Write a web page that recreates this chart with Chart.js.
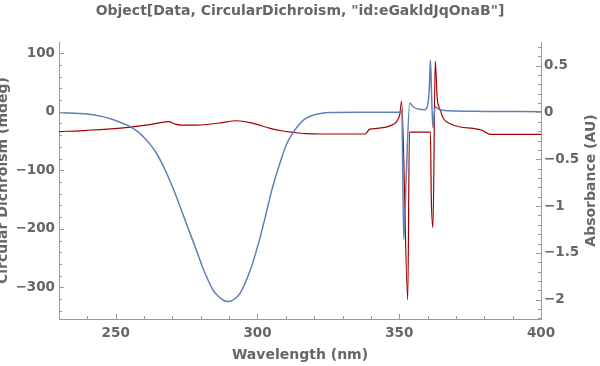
<!DOCTYPE html>
<html>
<head>
<meta charset="utf-8">
<script src="https://cdn.jsdelivr.net/npm/chart.js@4/dist/chart.umd.min.js"></script>
<style>
  html, body { margin: 0; padding: 0; background: #fff; }
  #wrap { width: 600px; height: 366px; }
</style>
</head>
<body>
<div id="wrap"><canvas id="cdChart" width="600" height="366"></canvas></div>
<script>
// circular dichroism (mdeg), left axis
const cdWavelengths = [230, 240, 245, 250, 253, 255, 258, 260, 262, 264, 266.9, 270.4, 274, 277.5, 281, 284.5,
  286, 288, 289.6, 291, 293, 294, 297.5, 300.4, 302.8, 305.1, 307.5, 310.4, 312.8, 316.3, 319, 322.2, 326, 335, 345, 350,
  350.9, 351.6, 352.4, 353.7, 355, 357, 359, 360, 360.6, 361, 361.4, 361.9, 362.3, 362.7, 364, 366, 370, 380, 400];
const cdValues = [-1.5, -4, -8, -15, -21, -25, -35, -44, -55, -68, -94, -133, -179, -224, -270, -306,
  -314, -322, -324, -322.5, -315, -309, -270, -224, -179, -133, -94, -54, -34, -14, -7, -3, -1.5, -1, -1, -1,
  3, -218, -120, 15, 8, 4, 3.5, 10, 40, 88, 30, -28, -5, 8, 4, 2, 1, 0.5, 0];

// absorbance (AU), right axis
const absWavelengths = [230, 240, 254.4, 262, 268.6, 271, 273.1, 278.7, 286, 292.8, 297.5, 304.5, 308.5, 312.8, 317,
  322.2, 338, 339.5, 342.2, 346.9, 349, 350.2, 350.85, 353, 353.6, 361, 361.3, 361.9, 362.7, 363.4, 364, 364.5,
  365.7, 368, 371.5, 376.1, 379.2, 382.2, 400];
const absValues = [-0.205, -0.19, -0.158, -0.13, -0.098, -0.125, -0.134, -0.134, -0.115, -0.088, -0.109, -0.169, -0.195, -0.212, -0.225,
  -0.23, -0.23, -0.18, -0.17, -0.14, -0.1, -0.02, 0.12, -2.0, -0.21, -0.21, -0.9, -1.23, 0.55, 0.15, 0.06, 0.02,
  -0.07, -0.12, -0.155, -0.17, -0.19, -0.234, -0.234];

const wlTicks = [250, 300, 350, 400];
const cdTicks = [-300, -200, -100, 0, 100];
const absTicks = [-2, -1.5, -1, -0.5, 0, 0.5];

const grey = '#666';
const axisGrey = '#9a9a9a';
const fontTick = { family: 'DejaVu Sans', size: 13.5, weight: 'bold' };
const fontLabel = { family: 'DejaVu Sans', size: 14, weight: 'bold' };

function fmt(v) {
  return v < 0 ? '\u2212' + Math.abs(v) : String(v);
}
function setTicks(arr) {
  return function (scale) { scale.ticks = arr.map(v => ({ value: v })); };
}

// Mathematica-style ticks pointing into the frame, plus the right label read bottom to top
const frameExtras = {
  id: 'frameExtras',
  afterDraw(chart) {
    const ctx = chart.ctx;
    const specs = [
      { s: chart.scales.x, minor: 10, major: 50, side: 'bottom' },
      { s: chart.scales.yCD, minor: 20, major: 100, side: 'left' },
      { s: chart.scales.yAbs, minor: 0.1, major: 0.5, side: 'right' }
    ];
    ctx.save();
    ctx.strokeStyle = axisGrey;
    ctx.lineWidth = 1;
    specs.forEach(({ s, minor, major, side }) => {
      const start = Math.ceil(s.min / minor - 1e-9);
      const end = Math.floor(s.max / minor + 1e-9);
      for (let i = start; i <= end; i++) {
        const v = i * minor;
        const isMajor = Math.abs(v / major - Math.round(v / major)) < 1e-6;
        const len = isMajor ? 5 : 3;
        const p = Math.round(s.getPixelForValue(v)) + 0.5;
        ctx.beginPath();
        if (side === 'bottom') {
          ctx.moveTo(p, s.top); ctx.lineTo(p, s.top - len);
        } else if (side === 'left') {
          ctx.moveTo(s.right, p); ctx.lineTo(s.right + len, p);
        } else {
          ctx.moveTo(s.left, p); ctx.lineTo(s.left - len, p);
        }
        ctx.stroke();
      }
    });

    const a = chart.chartArea;
    ctx.translate(591, (a.top + a.bottom) / 2);
    ctx.rotate(-Math.PI / 2);
    ctx.fillStyle = grey;
    ctx.font = 'bold 14px "DejaVu Sans"';
    ctx.textAlign = 'center';
    ctx.textBaseline = 'middle';
    ctx.fillText('Absorbance (AU)', 0, 0);
    ctx.restore();
  }
};

new Chart(document.getElementById('cdChart').getContext('2d'), {
  type: 'line',
  data: {
    datasets: [{
      label: 'Circular Dichroism',
      data: cdWavelengths.map((x, i) => ({ x: x, y: cdValues[i] })),
      yAxisID: 'yCD',
      borderColor: '#5e81b5',
      borderWidth: 1.5,
      pointRadius: 0,
      cubicInterpolationMode: 'monotone'
    }, {
      label: 'Absorbance',
      data: absWavelengths.map((x, i) => ({ x: x, y: absValues[i] })),
      yAxisID: 'yAbs',
      borderColor: '#a00000',
      borderWidth: 1.2,
      pointRadius: 0,
      cubicInterpolationMode: 'monotone'
    }]
  },
  options: {
    responsive: false,
    animation: false,
    devicePixelRatio: 1,
    layout: { padding: 0 },
    plugins: {
      legend: { display: false },
      tooltip: { enabled: false },
      title: {
        display: true,
        text: 'Object[Data, CircularDichroism, "id:eGakldJqOnaB"]',
        color: grey,
        font: fontLabel,
        padding: { top: 3, bottom: 22.2 }
      }
    },
    scales: {
      x: {
        type: 'linear',
        min: 230, max: 400,
        afterBuildTicks: setTicks(wlTicks),
        afterFit(s) { s.height = 47; },
        grid: { display: false, drawTicks: false },
        border: { color: axisGrey },
        ticks: { color: grey, font: fontTick, padding: 6, callback: fmt },
        title: { display: true, text: 'Wavelength (nm)', color: grey, font: fontLabel, padding: { top: 0, bottom: 2 } }
      },
      yCD: {
        type: 'linear',
        position: 'left',
        min: -354, max: 119,
        afterBuildTicks: setTicks(cdTicks),
        afterFit(s) { s.width = 59; },
        grid: { display: false, drawTicks: false },
        border: { color: axisGrey },
        ticks: { color: grey, font: fontTick, padding: 4, callback: fmt },
        title: { display: true, text: 'Circular Dichroism (mdeg)', color: grey, font: fontLabel, padding: { top: -5, bottom: 0 } }
      },
      yAbs: {
        type: 'linear',
        position: 'right',
        min: -2.206, max: 0.753,
        afterBuildTicks: setTicks(absTicks),
        afterFit(s) { s.width = 59; },
        grid: { display: false, drawTicks: false },
        border: { color: axisGrey },
        ticks: { color: grey, font: fontTick, padding: 3, callback: fmt },
        title: { display: false }
      }
    }
  },
  plugins: [frameExtras]
});
</script>
</body>
</html>
